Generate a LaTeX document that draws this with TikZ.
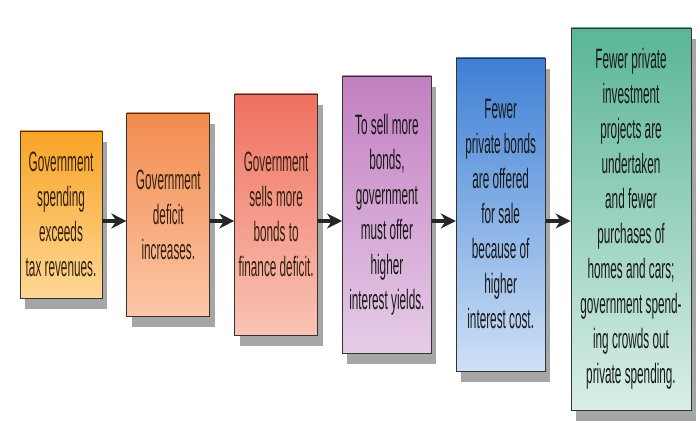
\documentclass[tikz,border=0pt]{standalone}
\usepackage{fontspec}
\setmainfont{Liberation Sans}[FakeStretch=0.42]
\usepackage{tikz}
\usetikzlibrary{arrows.meta,positioning,shadows}
\definecolor{orT}{HTML}{F9A426}\definecolor{orB}{HTML}{FDD795}
\definecolor{saT}{HTML}{F28B4E}\definecolor{saB}{HTML}{FCC7A8}
\definecolor{rdT}{HTML}{F0705F}\definecolor{rdB}{HTML}{F9C4B5}
\definecolor{plT}{HTML}{C27FC0}\definecolor{plB}{HTML}{E6CCE8}
\definecolor{blT}{HTML}{3D7FD5}\definecolor{blB}{HTML}{CFE1F6}
\definecolor{gnT}{HTML}{5AB597}\definecolor{gnB}{HTML}{D9EFE5}
\definecolor{ink}{HTML}{33200F}

\begin{document}
\begin{tikzpicture}[
  font=\fontsize{28}{35}\selectfont, node distance=24pt,
  bx/.style={draw=black!80,line width=0.8pt,align=center,inner sep=0pt,text=ink,
    drop shadow={shadow xshift=5pt,shadow yshift=-11pt,fill=black!35,opacity=1}},
  ar/.style={-{Stealth[length=15pt,width=15pt]},line width=3.5pt,draw=black!85}]

\useasboundingbox[fill=white] (0,0) rectangle (700pt,433pt);

\node[bx,minimum width=82pt,minimum height=167pt,top color=orT,bottom color=orB] (b1) at (61pt,218.5pt)
  {Government\\spending\\exceeds\\tax revenues.};
\node[bx,minimum width=83pt,minimum height=203pt,top color=saT,bottom color=saB,right=of b1] (b2)
  {Government\\deficit\\increases.};
\node[bx,minimum width=83pt,minimum height=241pt,top color=rdT,bottom color=rdB,right=of b2] (b3)
  {Government\\sells more\\bonds to\\finance deficit.};
\node[bx,minimum width=89pt,minimum height=277pt,top color=plT,bottom color=plB,right=of b3,text=black!90] (b4)
  {To sell more\\bonds,\\government\\must offer\\higher\\interest yields.};
\node[bx,minimum width=89pt,minimum height=313pt,top color=blT,bottom color=blB,right=of b4,text=black!90] (b5)
  {Fewer\\private bonds\\are offered\\for sale\\because of\\higher\\interest cost.};
\node[bx,minimum width=120pt,minimum height=382pt,top color=gnT,bottom color=gnB,right=25pt of b5,yshift=-4.5pt,text=black!90] (b6)
  {Fewer private\\investment\\projects are\\undertaken\\and fewer\\purchases of\\homes and cars;\\government spend-\\ing crowds out\\private spending.};

\foreach \x/\y in {b1/b2,b2/b3,b3/b4,b4/b5}
  \draw[ar] ([yshift=-6.5pt]\x.east) -- ([yshift=-6.5pt]\y.west);
\draw[ar] ([yshift=-6.5pt]b5.east) -- ([yshift=-2pt]b6.west);
\end{tikzpicture}
\end{document}
